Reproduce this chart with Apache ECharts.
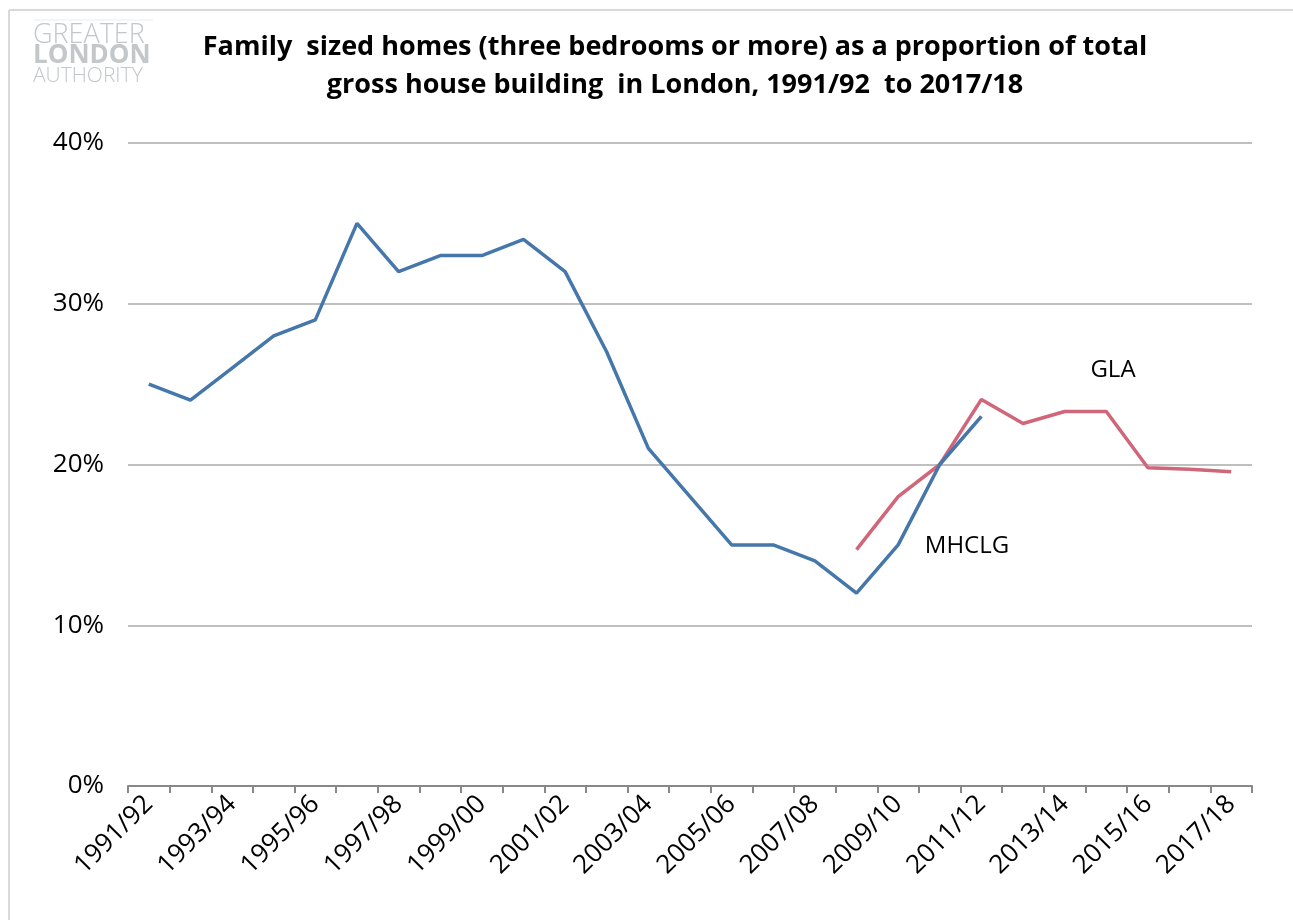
<!DOCTYPE html>
<html>
<head>
<meta charset="utf-8">
<script src="https://cdn.jsdelivr.net/npm/echarts@6/dist/echarts.min.js"></script>
<style>
html,body{margin:0;padding:0;background:#fff;}
#chart{width:1293px;height:920px;}
</style>
</head>
<body>
<div id="chart"></div>
<script>
const categories = ["1991/92","1992/93","1993/94","1994/95","1995/96","1996/97","1997/98","1998/99","1999/00","2000/01","2001/02","2002/03","2003/04","2004/05","2005/06","2006/07","2007/08","2008/09","2009/10","2010/11","2011/12","2012/13","2013/14","2014/15","2015/16","2016/17","2017/18"];
const mhclg = [25,24,26,28,29,35,32,33,33,34,32,27,21,18,15,15,14,12,15,20,23,null,null,null,null,null,null];
const gla = [null,null,null,null,null,null,null,null,null,null,null,null,null,null,null,null,null,14.7,18,20,24.05,22.55,23.3,23.3,19.8,19.7,19.55];
const yTicks = [0,10,20,30,40];

const FONT = '"Open Sans", "Noto Sans", sans-serif';
const chart = echarts.init(document.getElementById('chart'));
chart.setOption({
  animation: false,
  backgroundColor: '#fff',
  grid: {left: 128, right: 41, top: 143, bottom: 134},
  xAxis: {
    type: 'category',
    data: categories,
    boundaryGap: true,
    axisLine: {lineStyle: {color: '#888', width: 2}},
    axisTick: {show: true, interval: 0, length: 7, lineStyle: {color: '#888', width: 2}},
    axisLabel: {interval: 1, rotate: 45, color: '#000', fontSize: 26, fontFamily: FONT, margin: 14}
  },
  yAxis: {
    type: 'value',
    min: yTicks[0], max: yTicks[yTicks.length-1], interval: 10,
    axisLine: {show: false},
    axisTick: {show: false},
    splitLine: {lineStyle: {color: '#bfbfbf', width: 2}},
    axisLabel: {formatter: '{value}%', color: '#000', fontSize: 26, fontFamily: FONT, margin: 24}
  },
  series: [
    {name: 'MHCLG', type: 'line', data: mhclg, symbol: 'none', connectNulls: false,
     lineStyle: {color: '#4677ab', width: 3.5}, z: 3},
    {name: 'GLA', type: 'line', data: gla, symbol: 'none', connectNulls: false,
     lineStyle: {color: '#cf6679', width: 3.5}, z: 2}
  ],
  graphic: [
    {type: 'line', shape: {x1: 9, y1: 10, x2: 1293, y2: 10}, style: {stroke: '#d9d9d9', lineWidth: 2}},
    {type: 'line', shape: {x1: 9, y1: 10, x2: 9, y2: 920}, style: {stroke: '#d9d9d9', lineWidth: 2}},
    {type: 'line', shape: {x1: 34, y1: 20, x2: 153, y2: 20}, style: {stroke: '#e6edf4', lineWidth: 1}},
    {type: 'text', left: 33, top: 22, style: {text: 'GREATER', fontSize: 27, fontFamily: FONT, fill: '#c3c7ca', fontWeight: 300}},
    {type: 'text', left: 33, top: 43, style: {text: 'LONDON', fontSize: 26, fontFamily: FONT, fill: '#c3c7ca', fontWeight: 'bold'}},
    {type: 'text', left: 33, top: 66, style: {text: 'AUTHORITY', fontSize: 21, fontFamily: FONT, fill: '#c3c7ca', fontWeight: 300}},
    {type: 'text', x: 675, y: 34, style: {text: 'Family  sized homes (three bedrooms or more) as a proportion of total', fontSize: 27, fontWeight: 'bold', fontFamily: FONT, fill: '#000', align: 'center', verticalAlign: 'top'}},
    {type: 'text', x: 675, y: 72, style: {text: 'gross house building  in London, 1991/92  to 2017/18', fontSize: 27, fontWeight: 'bold', fontFamily: FONT, fill: '#000', align: 'center', verticalAlign: 'top'}},
    {type: 'text', x: 1113, y: 370, style: {text: 'GLA', fontSize: 24, fontFamily: FONT, fill: '#000', align: 'center', verticalAlign: 'middle'}},
    {type: 'text', x: 967, y: 546, style: {text: 'MHCLG', fontSize: 24, fontFamily: FONT, fill: '#000', align: 'center', verticalAlign: 'middle'}}
  ]
});
</script>
</body>
</html>
